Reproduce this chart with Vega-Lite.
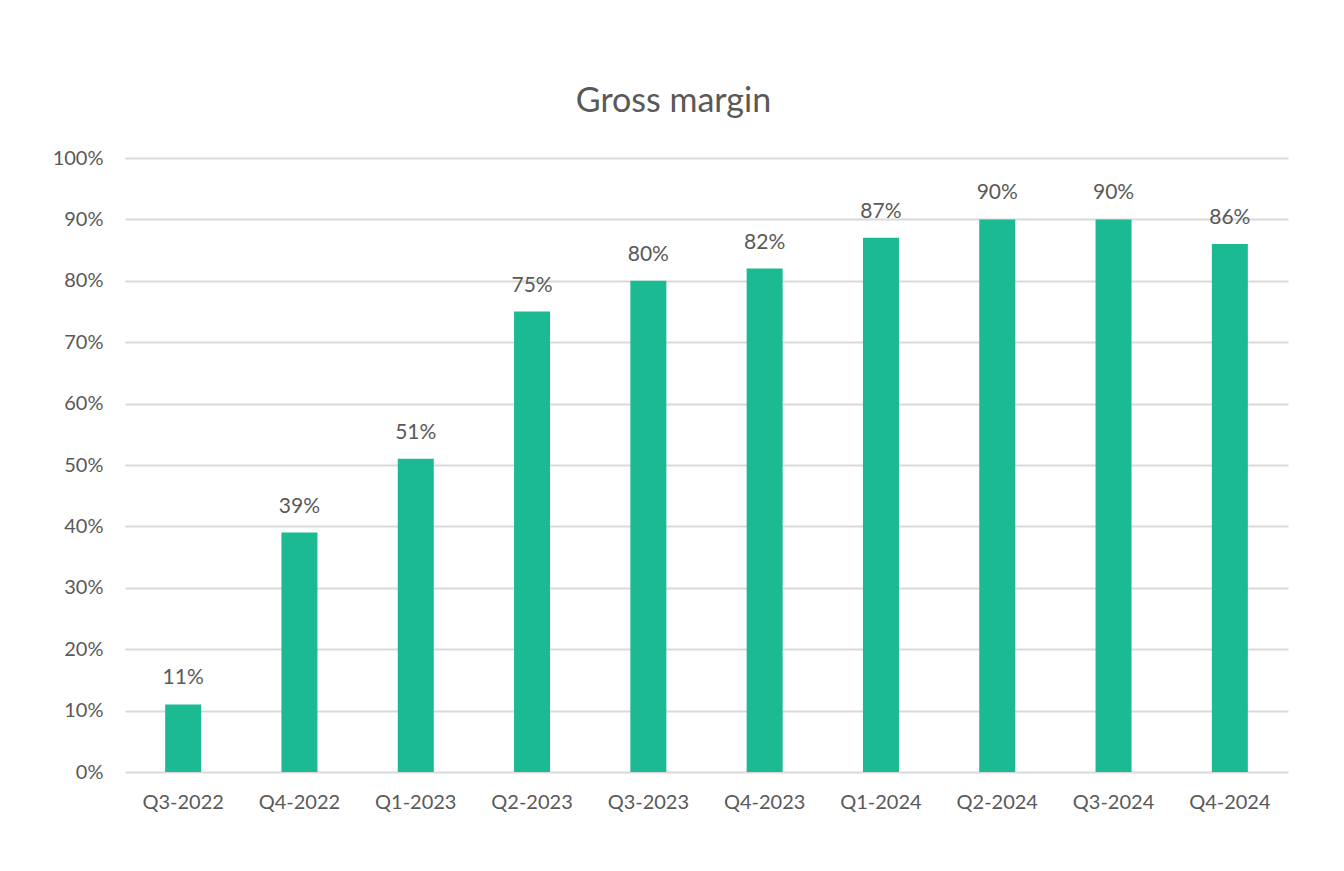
{
  "$schema": "https://vega.github.io/schema/vega-lite/v6.json",
  "autosize": "none",
  "width": 1163,
  "height": 614,
  "padding": {"left": 125, "top": 158, "right": 56, "bottom": 99},
  "background": "white",
  "config": {"view": {"stroke": null}, "font": "Lato"},
  "title": {
    "text": "Gross margin",
    "fontSize": 34,
    "font": "Lato",
    "fontWeight": "normal",
    "color": "#595959",
    "anchor": "middle",
    "dx": -33,
    "offset": 29
  },
  "data": {
    "values": [
      {"quarter": "Q3-2022", "margin": 0.11},
      {"quarter": "Q4-2022", "margin": 0.39},
      {"quarter": "Q1-2023", "margin": 0.51},
      {"quarter": "Q2-2023", "margin": 0.75},
      {"quarter": "Q3-2023", "margin": 0.80},
      {"quarter": "Q4-2023", "margin": 0.82},
      {"quarter": "Q1-2024", "margin": 0.87},
      {"quarter": "Q2-2024", "margin": 0.90},
      {"quarter": "Q3-2024", "margin": 0.90},
      {"quarter": "Q4-2024", "margin": 0.86}
    ]
  },
  "encoding": {
    "x": {
      "field": "quarter",
      "type": "nominal",
      "sort": null,
      "scale": {"paddingInner": 0, "paddingOuter": 0},
      "axis": {
        "title": null,
        "labelAngle": 0,
        "labelFontSize": 20,
        "labelColor": "#595959",
        "labelPadding": 20,
        "ticks": false,
        "domain": false,
        "grid": false
      }
    },
    "y": {
      "field": "margin",
      "type": "quantitative",
      "scale": {"domain": [0, 1], "nice": false},
      "axis": {
        "title": null,
        "format": ".0%",
        "values": [0, 0.1, 0.2, 0.3, 0.4, 0.5, 0.6, 0.7, 0.8, 0.9, 1.0],
        "labelFontSize": 20,
        "labelColor": "#595959",
        "labelPadding": 22,
        "ticks": false,
        "domain": false,
        "grid": true,
        "gridColor": "#d9d9d9",
        "gridWidth": 2
      }
    }
  },
  "layer": [
    {"mark": {"type": "bar", "size": 36, "color": "#1BBA93"}},
    {
      "mark": {"type": "text", "dy": -26, "fontSize": 21, "color": "#595959", "font": "Lato"},
      "encoding": {"text": {"field": "margin", "format": ".0%"}}
    }
  ]
}
